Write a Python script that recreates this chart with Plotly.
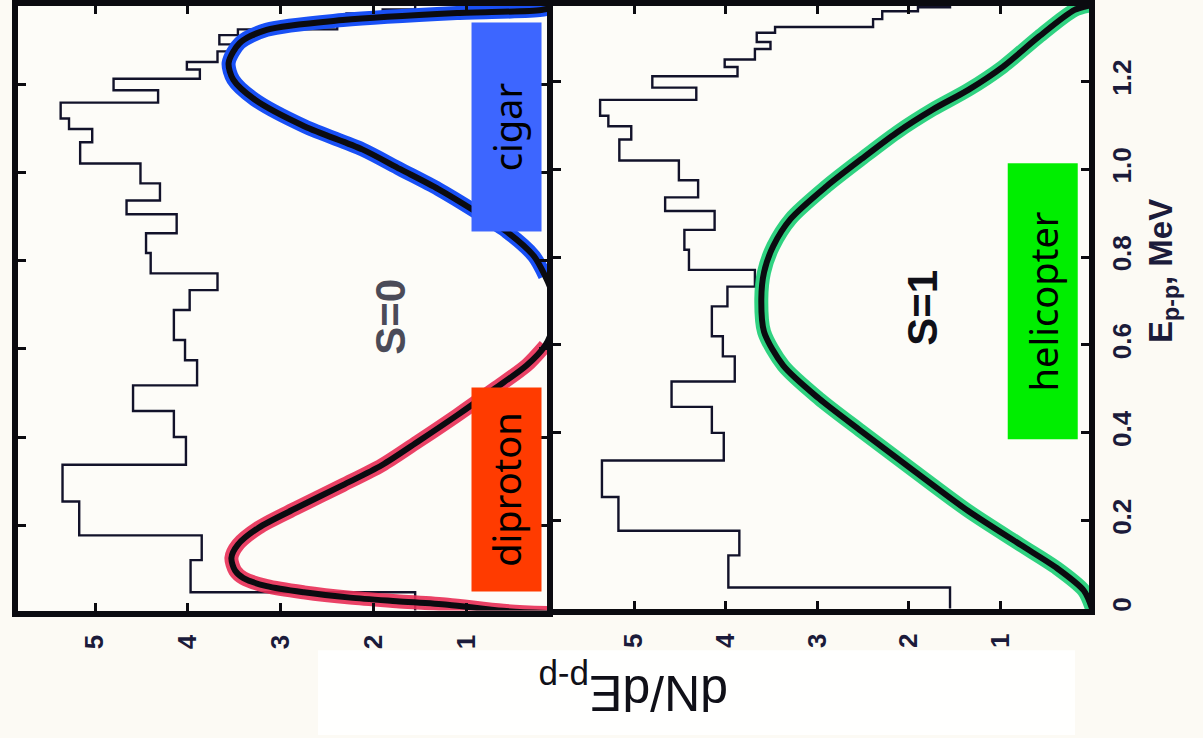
import numpy as np
import plotly.graph_objects as go

# ---- data -------------------------------------------------------------
# experimental p-p relative-energy histogram (bin edges in MeV, height per bin)
hist_edges = [0.0, 0.048, 0.121, 0.177, 0.254, 0.337, 0.400, 0.459, 0.517, 0.574,
              0.620, 0.688, 0.733, 0.771, 0.817, 0.862, 0.905, 0.936, 0.975, 1.020,
              1.068, 1.098, 1.122, 1.158, 1.186, 1.212, 1.233, 1.250, 1.274, 1.290,
              1.311, 1.324, 1.342, 1.360, 1.369, 1.380]
hist_counts = [1.55, 3.97, 3.85, 5.17, 5.35, 4.02, 4.15, 4.59, 3.90, 4.03,
               4.15, 3.98, 3.68, 4.40, 4.45, 4.12, 4.66, 4.30, 4.51, 5.16,
               5.03, 5.28, 5.37, 4.32, 4.80, 3.87, 4.01, 3.68, 3.51, 3.66,
               3.46, 2.39, 2.29, 1.90, 1.55]

# S=0 calculated distribution
s0_energy = [0.0, 0.006, 0.020, 0.028, 0.036, 0.048, 0.062, 0.080, 0.097, 0.126,
             0.156, 0.194, 0.239, 0.291, 0.336, 0.391, 0.449, 0.510, 0.562, 0.607,
             0.640, 0.690, 0.730, 0.765, 0.810, 0.865, 0.910, 0.962, 1.007, 1.052,
             1.104, 1.165, 1.210, 1.248, 1.293, 1.323, 1.345, 1.361, 1.368, 1.378]
s0_value = [0.0, 0.6, 1.2, 1.75, 2.25, 2.75, 3.15, 3.40, 3.49, 3.53,
            3.46, 3.24, 2.83, 2.33, 1.91, 1.51, 1.10, 0.69, 0.35, 0.15,
            0.08, 0.05, 0.08, 0.15, 0.27, 0.56, 0.89, 1.30, 1.71, 2.12,
            2.74, 3.28, 3.51, 3.56, 3.44, 3.15, 2.33, 1.10, 0.19, 0.0]

# S=1 calculated distribution
s1_energy = [0.0, 0.041, 0.093, 0.145, 0.222, 0.313, 0.404, 0.478, 0.553, 0.630,
             0.705, 0.766, 0.825, 0.887, 0.961, 1.023, 1.084, 1.136, 1.181, 1.234,
             1.302, 1.363, 1.374]
s1_value = [0.0, 0.09, 0.39, 0.78, 1.35, 1.94, 2.52, 2.98, 3.37, 3.58,
            3.61, 3.58, 3.48, 3.29, 2.90, 2.52, 2.13, 1.74, 1.35, 0.97,
            0.58, 0.19, 0.0]

energy_ticks = [0, 0.2, 0.4, 0.6, 0.8, 1.0, 1.2]
energy_ticktext = ["0", "0.2", "0.4", "0.6", "0.8", "1.0", "1.2"]
density_ticks = [1, 2, 3, 4, 5]
density_ticktext = ["1", "2", "3", "4", "5"]

# E ranges of the S=0 curve that are highlighted
cigar_from = 0.765
diproton_to = 0.607

# ---- geometry helpers ---------------------------------------------------
W, H = 1203, 738


def fx(px):
    return px / W


def fy(py):
    return 1 - py / H


# ---- build traces -------------------------------------------------------
edges = np.asarray(hist_edges)
counts = np.asarray(hist_counts)
step_v = np.repeat(counts, 2)
step_e = np.column_stack([edges[:-1], edges[1:]]).ravel()

s0_e = np.asarray(s0_energy)
s0_v = np.asarray(s0_value)
cig = s0_e >= cigar_from
dip = s0_e <= diproton_to

INK = "#0b0b10"
HIST_INK = "#12122a"

fig = go.Figure()

for xa, ya in (("x", "y"), ("x2", "y2")):
    fig.add_trace(go.Scatter(x=step_v, y=step_e, mode="lines", xaxis=xa, yaxis=ya,
                             line=dict(color=HIST_INK, width=2.4), hoverinfo="skip"))

# coloured highlight bands under the curves
band = dict(width=14, shape="spline", smoothing=0.8)
fig.add_trace(go.Scatter(x=s0_v[cig], y=s0_e[cig], mode="lines", xaxis="x", yaxis="y",
                         line=dict(color="rgb(25,80,245)", **band)))
fig.add_trace(go.Scatter(x=s0_v[dip], y=s0_e[dip], mode="lines", xaxis="x", yaxis="y",
                         line=dict(color="rgba(232,45,85,0.9)", **band)))
fig.add_trace(go.Scatter(x=s1_value, y=s1_energy, mode="lines", xaxis="x2", yaxis="y2",
                         line=dict(color="rgba(25,205,115,0.9)", **band)))

# black calculated curves
fig.add_trace(go.Scatter(x=s0_v, y=s0_e, mode="lines", xaxis="x", yaxis="y",
                         line=dict(color=INK, width=6, shape="spline", smoothing=0.8)))
fig.add_trace(go.Scatter(x=s1_value, y=s1_energy, mode="lines", xaxis="x2", yaxis="y2",
                         line=dict(color=INK, width=6, shape="spline", smoothing=0.8)))

# ---- axes ---------------------------------------------------------------
tick_font = dict(family="Liberation Sans, Arial, sans-serif", size=26,
                 color="#1b1b3a", weight="bold")
common = dict(showline=True, linewidth=6, linecolor=INK, mirror="allticks",
              ticks="inside", ticklen=8, tickwidth=3, tickcolor=INK,
              showgrid=False, zeroline=False)

# left panel (S=0)
l_zero, l_scale = 559.0, 92.8
fig.update_layout(xaxis=dict(domain=[fx(18), fx(547)],
                             range=[(l_zero - 18) / l_scale, (l_zero - 547) / l_scale],
                             anchor="y", tickvals=density_ticks, ticktext=density_ticktext,
                             tickangle=-90, tickfont=tick_font, ticklabelstandoff=8, **common))
fig.update_layout(yaxis=dict(domain=[fy(613), fy(6)],
                             range=[(616 - 613) / 443, (616 - 6) / 443],
                             anchor="x", tickvals=energy_ticks, showticklabels=False, **common))

# right panel (S=1)
r_zero, r_scale = 1092.0, 91.6
fig.update_layout(xaxis2=dict(domain=[fx(553), fx(1089)],
                              range=[(r_zero - 553) / r_scale, (r_zero - 1089) / r_scale],
                              anchor="y2", tickvals=density_ticks, ticktext=density_ticktext,
                              tickangle=-90, tickfont=tick_font, ticklabelstandoff=8, **common))
fig.update_layout(yaxis2=dict(domain=[fy(611.5), fy(6)],
                              range=[(611 - 611.5) / 441, (611 - 6) / 441],
                              anchor="x2", side="right", tickvals=energy_ticks,
                              ticktext=energy_ticktext, tickangle=-90, tickfont=tick_font,
                              ticklabelstandoff=5, **common))

# ---- labels -------------------------------------------------------------
label_font = dict(family="Noto Sans, Open Sans, sans-serif", size=38, color="#000000")


def note(text, cx, cy, angle, font, **extra):
    fig.add_annotation(text=text, x=fx(cx), y=fy(cy), xref="paper", yref="paper",
                       showarrow=False, textangle=angle, font=font,
                       xanchor="center", yanchor="middle", **extra)


def tag(text, cx, cy, length, color):
    note(text, cx, cy, -90, label_font, bgcolor=color, borderpad=0,
         width=length, height=69)


tag("cigar", 506.5, 128, 208, "#3d66ff")
tag("diproton", 506.5, 491.5, 203, "#ff3b00")
tag("helicopter", 1042.5, 302.5, 275, "#00ee00")

bold_sans = "Liberation Sans, Arial, sans-serif"
note("<b>S=0</b>", 391, 318, -90, dict(family=bold_sans, size=42, color="#4b4b58"))
note("<b>S=1</b>", 923, 309, -90, dict(family=bold_sans, size=42, color="#101018"))

note("dN/dE<sub>p-p</sub>", 633, 693, 180, dict(family=bold_sans, size=50, color="#101018"))
note("<b>E<sub>p-p</sub>, MeV</b>", 1163, 272, -90, dict(family=bold_sans, size=33, color="#1b1b3a"))

# slightly whiter patch of the page under the axis title
fig.add_shape(type="rect", xref="paper", yref="paper", layer="below",
              x0=fx(318), x1=fx(1075), y0=fy(738), y1=fy(653),
              fillcolor="#fffffe", line_width=0)

fig.update_layout(width=W, height=H, margin=dict(l=0, r=0, t=0, b=0),
                  paper_bgcolor="#fcfaf4", plot_bgcolor="#fdfcf8", showlegend=False)

fig.write_html("out.html")
